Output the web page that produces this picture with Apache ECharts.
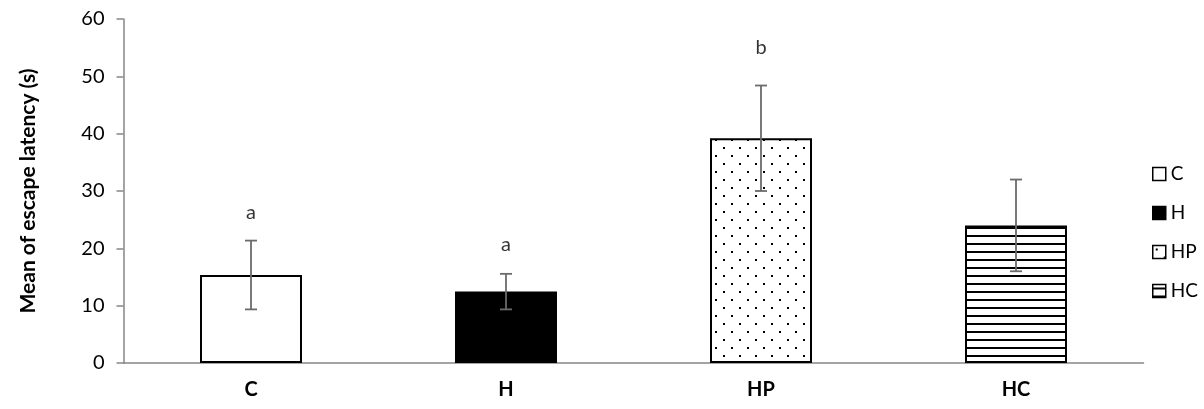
<!DOCTYPE html>
<html>
<head>
<meta charset="utf-8">
<script src="https://cdn.jsdelivr.net/npm/echarts@6/dist/echarts.min.js"></script>
<style>
html,body{margin:0;padding:0;background:#fff;}
#chart{width:1204px;height:409px;}
</style>
</head>
<body>
<div id="chart"></div>
<script>
// ---- data ----
var categories = ['C', 'H', 'HP', 'HC'];
var means = [15.35, 12.45, 39.2, 24.0];
var errors = [6.0, 3.1, 9.2, 8.0];
var letters = ['a', 'a', 'b', ''];
var letterPos = [26.2, 20.6, 55.1, null];
var yTicks = { min: 0, max: 60, interval: 10 };

// ---- fill patterns ----
function dotPattern() {
  var c = document.createElement('canvas');
  c.width = 16; c.height = 16;
  var g = c.getContext('2d');
  g.fillStyle = '#fff'; g.fillRect(0, 0, 16, 16);
  g.fillStyle = '#000';
  g.fillRect(3, 3, 2, 2);
  g.fillRect(11, 11, 2, 2);
  return c;
}
function linePattern() {
  var c = document.createElement('canvas');
  c.width = 8; c.height = 8;
  var g = c.getContext('2d');
  g.fillStyle = '#fff'; g.fillRect(0, 0, 8, 8);
  g.fillStyle = '#000';
  g.fillRect(0, 3, 8, 2);
  return c;
}
var fills = [
  '#ffffff',
  '#000000',
  { image: dotPattern(), repeat: 'repeat' },
  { image: linePattern(), repeat: 'repeat' }
];

var FONT = 'Lato, "Open Sans", sans-serif';

var barSeries = categories.map(function (cat, i) {
  var d = categories.map(function (_, j) { return j === i ? means[j] : null; });
  return {
    name: cat,
    type: 'bar',
    barWidth: '40%',
    barGap: '-100%',
    data: d,
    itemStyle: { color: fills[i], borderColor: '#000', borderWidth: 2 },
    emphasis: { disabled: true },
    z: 2
  };
});

var errSeries = {
  type: 'custom',
  name: 'err',
  data: categories.map(function (c, i) { return [i, means[i] - errors[i], means[i] + errors[i]]; }),
  renderItem: function (params, api) {
    var x = api.value(0);
    var lo = api.coord([x, api.value(1)]);
    var hi = api.coord([x, api.value(2)]);
    var hw = 6;
    var st = { stroke: '#6b6b6b', lineWidth: 1.8 };
    return {
      type: 'group',
      children: [
        { type: 'line', shape: { x1: lo[0], y1: lo[1], x2: hi[0], y2: hi[1] }, style: st },
        { type: 'line', shape: { x1: lo[0] - hw, y1: lo[1], x2: lo[0] + hw, y2: lo[1] }, style: st },
        { type: 'line', shape: { x1: hi[0] - hw, y1: hi[1], x2: hi[0] + hw, y2: hi[1] }, style: st }
      ]
    };
  },
  z: 5,
  silent: true
};

var letterSeries = {
  type: 'scatter',
  name: 'letters',
  symbolSize: 0,
  data: categories.map(function (c, i) { return letterPos[i] == null ? null : [i, letterPos[i], letters[i]]; }),
  label: {
    show: true,
    position: 'inside',
    formatter: function (p) { return p.value[2]; },
    fontFamily: FONT,
    fontSize: 20,
    color: '#000'
  },
  silent: true,
  z: 6
};

var chart = echarts.init(document.getElementById('chart'), null, { renderer: 'canvas' });
chart.setOption({
  animation: false,
  backgroundColor: '#fff',
  grid: { left: 123.5, right: 60.5, top: 19, bottom: 46 },
  legend: {
    data: categories,
    orient: 'vertical',
    left: 1147,
    top: 159,
    itemWidth: 13,
    itemHeight: 13,
    itemGap: 19,
    itemStyle: { borderColor: '#000', borderWidth: 1.5 },
    textStyle: { fontFamily: FONT, fontSize: 19, color: '#000', lineHeight: 20 },
    icon: 'rect',
    selectedMode: false
  },
  xAxis: {
    type: 'category',
    data: categories,
    axisLine: { show: true, lineStyle: { color: '#868686', width: 1.5 } },
    axisTick: { show: false },
    axisLabel: { fontFamily: FONT, fontSize: 20, fontWeight: 'bold', color: '#000', margin: 17 }
  },
  yAxis: {
    type: 'value',
    min: yTicks.min,
    max: yTicks.max,
    interval: yTicks.interval,
    name: 'Mean of escape latency (s)',
    nameLocation: 'middle',
    nameGap: 85,
    nameRotate: 90,
    nameTextStyle: { fontFamily: FONT, fontSize: 21, fontWeight: 'bold', color: '#000' },
    axisLine: { show: true, lineStyle: { color: '#868686', width: 1.5 } },
    axisTick: { show: true, length: 7, lineStyle: { color: '#868686', width: 1.5 } },
    axisLabel: { fontFamily: FONT, fontSize: 20, color: '#000', margin: 19 },
    splitLine: { show: false }
  },
  series: barSeries.concat([errSeries, letterSeries])
});
</script>
</body>
</html>
